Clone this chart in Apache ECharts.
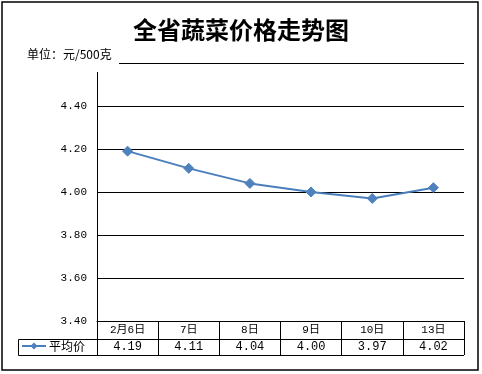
<!DOCTYPE html>
<html><head><meta charset="utf-8">
<script src="https://cdn.jsdelivr.net/npm/echarts@6/dist/echarts.min.js"></script>
<style>html,body{margin:0;padding:0;background:#fff}#c{width:482px;height:374px}</style>
</head><body><div id="c"></div>
<script>
const titleText = '全省蔬菜价格走势图';
const unitText = '单位：元/500克';
const seriesName = '平均价';
const categories = ['2月6日', '7日', '8日', '9日', '10日', '13日'];
const prices = [4.19, 4.11, 4.04, 4.00, 3.97, 4.02];
const yMin = 3.4, yMax = 4.6, yStep = 0.2;

const monoFont = '"Liberation Mono", "Noto Sans CJK SC", monospace';
const chart = echarts.init(document.getElementById('c'), null, {renderer: 'canvas'});
chart.setOption({
  animation: false,
  backgroundColor: '#fff',
  title: {
    text: titleText, left: 'center', top: 13,
    textStyle: {fontFamily: '"Noto Sans CJK SC"', fontSize: 24, fontWeight: 'bold', color: '#000'}
  },
  legend: {
    left: 21, top: 340, padding: 0, itemWidth: 24, itemHeight: 9, itemGap: 4,
    data: [seriesName],
    textStyle: {fontFamily: '"Noto Sans CJK SC"', fontSize: 12, color: '#000', padding: [0,0,0,-2]}
  },
  grid: {left: 97, top: 63, width: 367, height: 258, containLabel: false},
  xAxis: [{
    type: 'category', data: categories, position: 'bottom', boundaryGap: true,
    axisLine: {show: true, lineStyle: {color: '#000', width: 1}},
    axisTick: {show: true, interval: 0, length: 18, lineStyle: {color: '#000'}},
    axisLabel: {interval: 0, margin: 4, fontFamily: monoFont, fontSize: 11, color: '#000'},
    splitLine: {show: false}
  }, {
    type: 'category', data: categories, position: 'bottom', offset: 18, boundaryGap: true,
    axisLine: {show: true, lineStyle: {color: '#000', width: 1}},
    axisTick: {show: true, interval: 0, length: 16, lineStyle: {color: '#000'}},
    axisLabel: {interval: 0, margin: 2, fontFamily: monoFont, fontSize: 12, color: '#000',
      formatter: (v, i) => prices[i].toFixed(2)},
    splitLine: {show: false}
  }],
  yAxis: {
    type: 'value', min: yMin, max: yMax, interval: yStep,
    axisLine: {show: true, lineStyle: {color: '#000', width: 1}},
    axisTick: {show: false},
    axisLabel: {margin: 10, fontFamily: monoFont, fontSize: 11, color: '#000',
      formatter: v => (Math.abs(v - yMax) < 1e-6 ? '' : v.toFixed(2))},
    splitLine: {show: true, lineStyle: {color: '#000', width: 1}}
  },
  series: [{
    name: seriesName, type: 'line', data: prices, xAxisIndex: 0,
    symbol: 'diamond', symbolSize: 10,
    lineStyle: {color: '#4A7EBB', width: 2},
    itemStyle: {color: '#4F81BD', borderColor: '#4F81BD'},
    z: 5
  }],
  graphic: [
    {type: 'rect', shape: {x: 2, y: 2, width: 476, height: 368}, style: {fill: 'none', stroke: '#000', lineWidth: 1.5}, z: 100},
    {type: 'rect', shape: {x: 20, y: 42, width: 99, height: 30}, style: {fill: '#fff'}, z: 100},
    {type: 'text', left: 27, top: 48, style: {text: unitText, fontFamily: '"Noto Sans CJK SC"', fontSize: 12, fill: '#000'}, z: 101},
    {type: 'polyline', shape: {points: [[97, 339.5], [18.5, 339.5], [18.5, 355.5], [464, 355.5]]}, style: {fill: 'none', stroke: '#000', lineWidth: 1}, z: 100}
  ]
});
</script></body></html>
